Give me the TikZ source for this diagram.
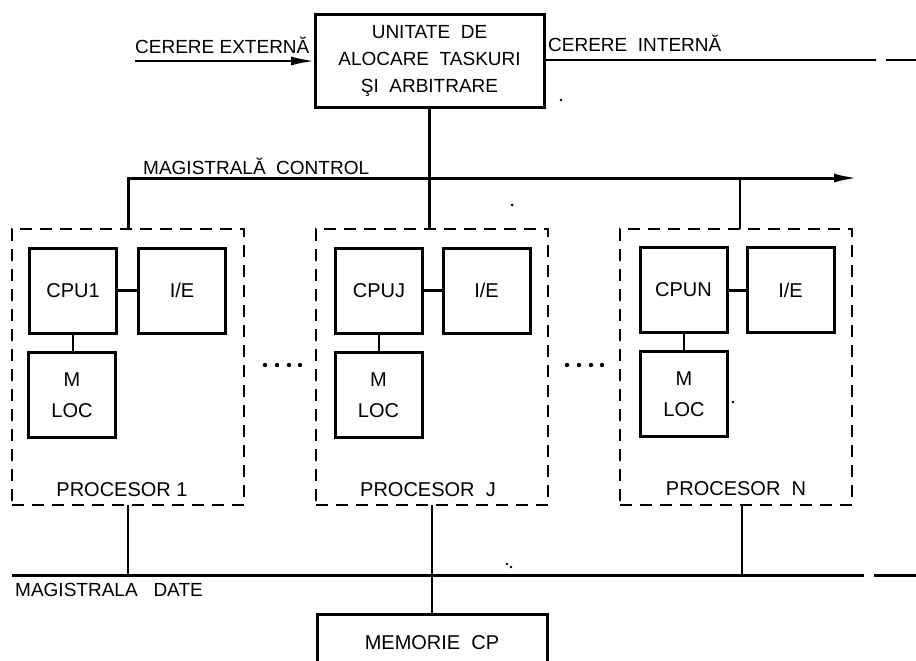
\documentclass[tikz,border=0pt]{standalone}
\usepackage{fontspec}
\setmainfont{Liberation Sans}
\usetikzlibrary{arrows.meta}
\begin{document}
\begin{tikzpicture}[x=1pt,y=-1pt,
  solidbox/.style={draw,line width=3pt,inner sep=0pt,outer sep=0pt,align=center,font=\fontsize{20}{24}\selectfont},
  unitbox/.style={solidbox,minimum width=87pt,minimum height=85pt},
  procbox/.style={draw,line width=2pt,dash pattern=on 12pt off 8pt,inner sep=0pt,outer sep=0pt,minimum width=232pt,minimum height=276pt},
  lbl/.style={inner sep=0pt,font=\fontsize{19}{22}\selectfont},
  plbl/.style={inner sep=0pt,font=\fontsize{20}{24}\selectfont},
  bus/.style={line width=3pt},
  wire/.style={line width=2.5pt},
  thin/.style={line width=2pt},
  tip/.style={-{Latex[length=24pt,width=9pt]}},
  dot/.style={fill=black}
]
\fill[white] (0,0) rectangle (916,661);
\useasboundingbox (0,0) rectangle (916,661);

% allocation unit
\node[solidbox,minimum width=229pt,minimum height=92pt,font=\fontsize{19}{27}\selectfont] (ual) at (429.5,61)
  {UNITATE\ \ DE\\ALOCARE\ \ TASKURI\\ŞI\ \ ARBITRARE};

\node[lbl,anchor=west] (lext) at (135,45) {CERERE EXTERNĂ};
\node[lbl,anchor=west] (lint) at (548,43) {CERERE\ \ INTERNĂ};
\node[lbl,anchor=west] (lctl) at (143,166) {MAGISTRALĂ\ \ CONTROL};
\node[lbl,anchor=west] (ldat) at (15,590) {MAGISTRALA\ \ \ DATE};

% processors
\node[procbox] (p1) at (127.5,367) {};
\node[procbox] (pJ) at (432,367) {};
\node[procbox] (pN) at (736,367) {};
\node[plbl] (lp1) at (122,490) {PROCESOR 1};
\node[plbl] (lpJ) at (428,490) {PROCESOR\ \ J};
\node[plbl] (lpN) at (736,489) {PROCESOR\ \ N};

\node[unitbox] (cpu1) at (73,290.5) {CPU1};
\node[unitbox] (ie1) at (182,290.5) {I/E};
\node[unitbox] (m1) at (72,395) {M\\[7pt]LOC};

\node[unitbox] (cpuJ) at (379,290.5) {CPUJ};
\node[unitbox] (ieJ) at (486.5,290.5) {I/E};
\node[unitbox] (mJ) at (378.5,395) {M\\[7pt]LOC};

\node[unitbox] (cpuN) at (683.5,290) {CPUN};
\node[unitbox] (ieN) at (790.5,290) {I/E};
\node[unitbox] (mN) at (684,394) {M\\[7pt]LOC};

% memory
\node[solidbox,minimum width=230pt,minimum height=80pt] (mem) at (432,654) {};
\node[plbl] (lmem) at (432,643) {MEMORIE\ \ CP};

% coordinates
\coordinate (extS) at (135,61);
\coordinate (intE) at (876,60);
\coordinate (intS2) at (886,60);
\coordinate (intE2) at (916,60);
\coordinate (cbL) at (128,178);
\coordinate (cbR) at (858,178);
\coordinate (cbN) at (740,178);
\coordinate (dbL) at (12,575);
\coordinate (dbR) at (864,575);
\coordinate (dbS2) at (874,575);
\coordinate (dbE) at (916,575);
\coordinate (d1) at (128,575);
\coordinate (dN) at (742,575);

% top signals
\draw[wire,tip] (extS) -- (ual.west |- extS);
\draw[thin] (ual.east |- intE) -- (intE);
\draw[thin] (intS2) -- (intE2);
\draw[wire] (ual.south) -- (ual.south |- pJ.north);

% control bus
\draw[bus,tip] (cbL |- p1.north) -- (cbL) -- (cbR);
\draw[thin] (cbN) -- (cbN |- pN.north);

% internal links
\foreach \c/\i/\m in {cpu1/ie1/m1,cpuJ/ieJ/mJ,cpuN/ieN/mN}{
  \draw[bus] (\c.east) -- (\i.west);
  \draw[thin] (\c.south) -- (\c.south |- \m.north);
}

% data bus
\draw[bus] (dbL) -- (dbR);
\draw[bus] (dbS2) -- (dbE);
\draw[wire] (d1 |- p1.south) -- (d1);
\draw[wire] (mem.north |- pJ.south) -- (mem.north);
\draw[wire] (dN |- pN.south) -- (dN);

% ellipsis dots
\foreach \x in {265,277,289,300} \fill[dot] (\x,365) circle (2.2);
\foreach \x in {567,579,591,602} \fill[dot] (\x,365) circle (2.2);

% small specks
\fill[dot] (561,100) circle (1.3);
\fill[dot] (512,205) circle (1.5);
\fill[dot] (733,402) circle (1.3);
\fill[dot] (507,564) circle (1.3);
\fill[dot] (511,567) circle (1.3);
\end{tikzpicture}
\end{document}
